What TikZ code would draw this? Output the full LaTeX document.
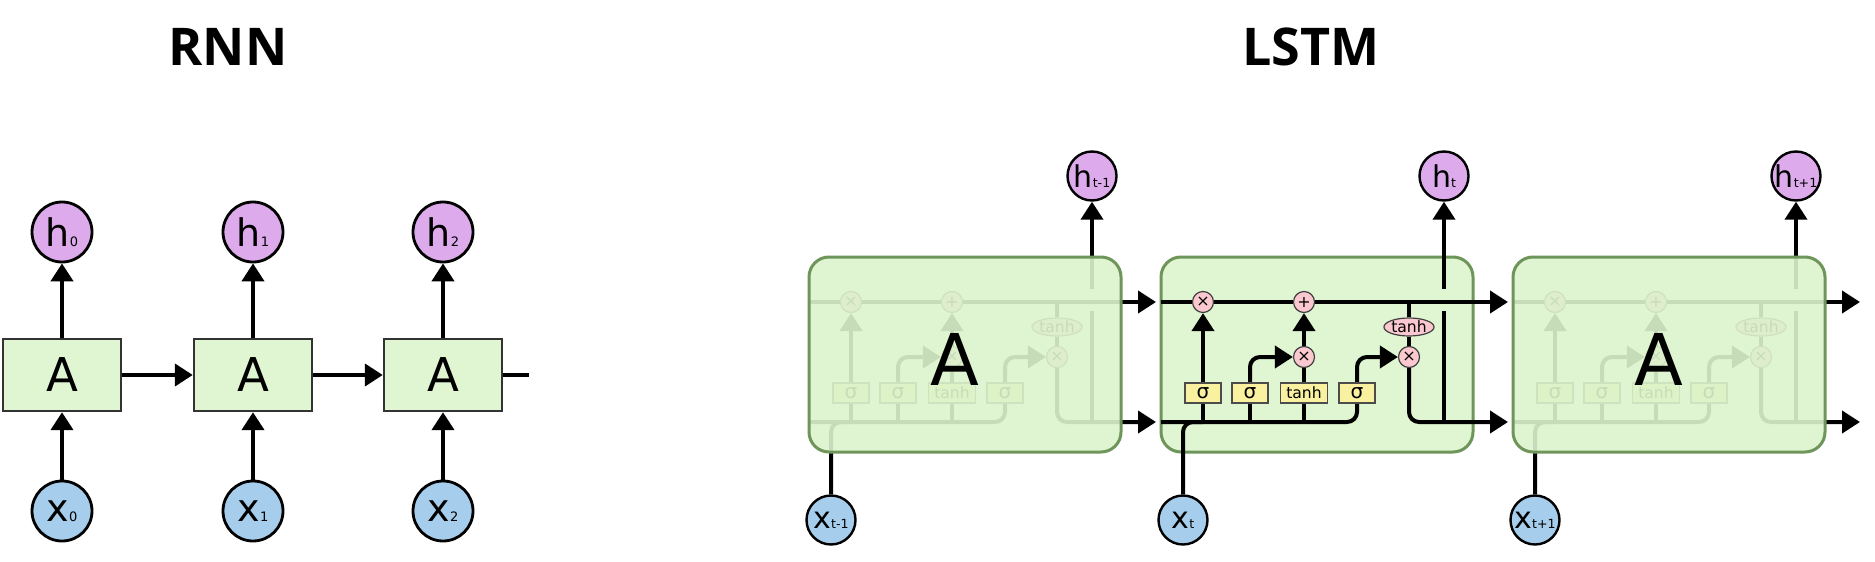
\documentclass[tikz,border=0pt]{standalone}
\usepackage{fontspec}
\setmainfont{DejaVu Sans}
\newfontfamily\titlefont{Open Sans}
\usetikzlibrary{arrows.meta,shapes.geometric}
\definecolor{cellgreen}{RGB}{224,245,210}
\definecolor{overgreen}{RGB}{220,243,204}
\definecolor{bordergreen}{RGB}{110,150,90}
\definecolor{hpurple}{RGB}{221,170,236}
\definecolor{xblue}{RGB}{166,206,236}
\definecolor{oppink}{RGB}{250,200,206}
\definecolor{gateyellow}{RGB}{249,240,160}
\pgfdeclarelayer{bg}
\pgfdeclarelayer{lines}
\pgfdeclarelayer{fg}
\pgfsetlayers{bg,lines,main,fg}
\tikzset{
  ttl/.style={font=\titlefont\bfseries\fontsize{26}{30}\selectfont, anchor=base, inner sep=0pt},
  rnnbox/.style={draw=black!80, line width=1.2pt, fill=cellgreen, minimum width=59pt, minimum height=36pt, inner sep=0pt, font=\fontsize{23.3}{26}\selectfont},
  rnncirc/.style={circle, draw=black, line width=1.4pt, minimum size=30pt, inner sep=0pt, font=\fontsize{19}{20}\selectfont},
  rnnh/.style={rnncirc, fill=hpurple},
  rnnx/.style={rnncirc, fill=xblue},
  rarr/.style={line width=2.1pt, -{Triangle[width=11pt,length=9pt]}},
  rln/.style={line width=2.1pt},
  ln/.style={line width=2pt},
  arr/.style={line width=2pt, -{Triangle[width=11pt,length=9pt]}},
  rnd/.style={rounded corners=5pt},
  lcirc/.style={circle, draw=black, line width=1.2pt, minimum size=24.5pt, inner sep=0pt, font=\fontsize{15}{16}\selectfont},
  lh/.style={lcirc, fill=hpurple},
  lx/.style={lcirc, fill=xblue},
  opc/.style={circle, draw=black!75, line width=0.6pt, fill=oppink, minimum size=10.5pt, inner sep=0pt, font=\fontsize{8}{8}\selectfont},
  tnh/.style={ellipse, draw=black!75, line width=0.6pt, fill=oppink, minimum width=24pt, minimum height=9pt, inner sep=0pt, font=\fontsize{7.8}{8}\selectfont},
  gate/.style={rectangle, draw=black!70, line width=0.6pt, fill=gateyellow, minimum width=18pt, minimum height=10pt, inner sep=0pt, font=\fontsize{10}{10}\selectfont},
  cellbox/.style={rectangle, rounded corners=10pt, draw=bordergreen, line width=1.5pt, minimum width=156pt, minimum height=97.5pt, inner sep=0pt},
  bigA/.style={font=\fontsize{35.7}{40}\selectfont, inner sep=0pt},
}
\newcommand\subs[1]{{\fontsize{6.5}{7}\selectfont #1}}
\newcommand\lsubs[1]{{\fontsize{6.3}{6}\selectfont #1}}
\newcommand\lstmcell[3]{%
\begin{scope}[shift={(#2,0)}]
  \node[opc] (f#1) at (42,302) {×};
  \node[opc] (p#1) at (143,302) {+};
  \node[opc] (i#1) at (143,357) {×};
  \node[tnh] (t#1) at (248,327) {tanh};
  \node[opc] (o#1) at (248,357) {×};
  \node[gate] (sa#1) at (42,393) {σ};
  \node[gate] (sb#1) at (89,393) {σ};
  \node[gate, minimum width=23.5pt, font=\fontsize{7.8}{8}\selectfont] (sc#1) at (143,393) {tanh};
  \node[gate] (sd#1) at (196,393) {σ};
  \node[lh] (h#1) at (283,176) {h\lsubs{#3}};
  \node[lx] (x#1) at (22,520) {x\lsubs{#3}};
  \coordinate (tl#1) at (0,302);
  \coordinate (bl#1) at (0,422);
  \coordinate (te#1) at (347,302);
  \coordinate (be#1) at (347,422);
  \coordinate (hb#1) at (283,422);
  \coordinate (hg#1) at (283,311);
  \coordinate (hr#1) at (283,289);
  \coordinate (ct#1) at (248,302);
\end{scope}
\begin{pgfonlayer}{lines}
  \draw[ln] (tl#1) -- (f#1);
  \draw[ln] (f#1) -- (p#1);
  \draw[arr] (p#1) -- (te#1);
  \draw[ln] (ct#1) -- (t#1);
  \draw[ln] (t#1) -- (o#1);
  \draw[arr,rnd] (o#1) |- (be#1);
  \draw[ln,rnd] (bl#1) -| (sd#1);
  \draw[ln,rnd] (x#1) |- (sa#1 |- bl#1);
  \draw[ln] (sa#1 |- bl#1) -- (sa#1);
  \draw[ln] (sb#1 |- bl#1) -- (sb#1);
  \draw[ln] (sc#1 |- bl#1) -- (sc#1);
  \draw[arr] (sa#1) -- (f#1);
  \draw[arr,rnd] (sb#1) |- (i#1);
  \draw[ln] (sc#1) -- (i#1);
  \draw[arr] (i#1) -- (p#1);
  \draw[arr,rnd] (sd#1) |- (o#1);
  \draw[ln] (hb#1) -- (hg#1);
  \draw[arr] (hr#1) -- (h#1);
\end{pgfonlayer}}
\begin{document}
\begin{tikzpicture}[x=0.5pt,y=-0.5pt]
\useasboundingbox (0,0) rectangle (1875,562);
\begin{pgfonlayer}{bg}
  \fill[white] (0,0) rectangle (1875,562);
\end{pgfonlayer}
% titles
\node[ttl] (tR) at (228,65) {RNN};
\node[ttl] (tL) at (1311,65) {LSTM};
% RNN
\node[rnnbox] (r0) at (62,375) {A};
\node[rnnbox] (r1) at (253,375) {A};
\node[rnnbox] (r2) at (443,375) {A};
\node[rnnh] (h0) at (62,232) {h\subs{0}};
\node[rnnh] (h1) at (253,232) {h\subs{1}};
\node[rnnh] (h2) at (443,232) {h\subs{2}};
\node[rnnx] (x0) at (62,511) {x\subs{0}};
\node[rnnx] (x1) at (253,511) {x\subs{1}};
\node[rnnx] (x2) at (443,511) {x\subs{2}};
\coordinate (rend) at (529,375);
\draw[rarr] (r0) -- (h0);
\draw[rarr] (r1) -- (h1);
\draw[rarr] (r2) -- (h2);
\draw[rarr] (x0) -- (r0);
\draw[rarr] (x1) -- (r1);
\draw[rarr] (x2) -- (r2);
\draw[rarr] (r0) -- (r1);
\draw[rarr] (r1) -- (r2);
\draw[rln] (r2) -- (rend);
% LSTM
\lstmcell{1}{809}{t-1}
\lstmcell{2}{1161}{t}
\lstmcell{3}{1513}{t+1}
\begin{pgfonlayer}{bg}
  \node[cellbox, fill=cellgreen] (B2) at (1317,354.5) {};
\end{pgfonlayer}
\begin{pgfonlayer}{fg}
  \node[cellbox, fill=overgreen, fill opacity=0.9] (B1) at (965,354.5) {};
  \node[cellbox, fill=overgreen, fill opacity=0.9] (B3) at (1669,354.5) {};
  \node[bigA] (A1) at (955,359) {A};
  \node[bigA] (A3) at (1659,359) {A};
\end{pgfonlayer}
\end{tikzpicture}
\end{document}
